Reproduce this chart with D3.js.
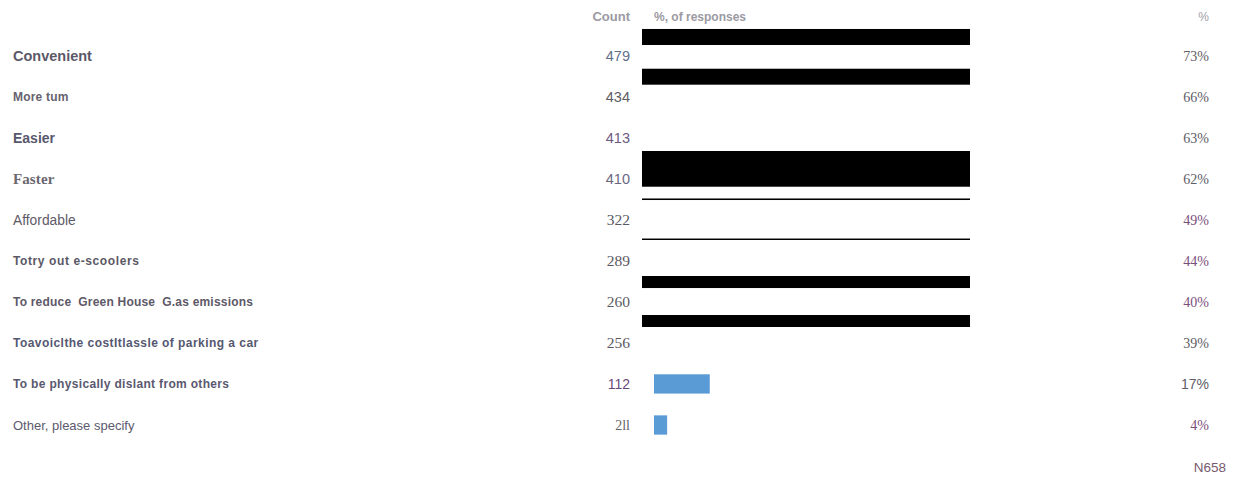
<!DOCTYPE html>
<html>
<head>
<meta charset="utf-8">
<script src="https://cdn.jsdelivr.net/npm/d3@7"></script>
<style>
  html, body { margin: 0; padding: 0; background: #fff; }
  svg { display: block; }
</style>
</head>
<body>
<svg id="chart" width="1234" height="478"></svg>
<script>
// ---------------- data ----------------
const categories = [
  "Convenient",
  "More tum",
  "Easier",
  "Faster",
  "Affordable",
  "Totry out e-scoolers",
  "To reduce  Green House  G.as emissions",
  "Toavoiclthe costItlassle of parking a car",
  "To be physically dislant from others",
  "Other, please specify"
];
const countLabels = ["479", "434", "413", "410", "322", "289", "260", "256", "112", "2ll"];
const pctValues   = [73, 66, 63, 62, 49, 44, 40, 39, 17, 4];
// bars that are visible in the picture (others are hidden)
const barValues   = [null, null, null, null, null, null, null, null, 17, 4];
// black masking bands, in row units (from, to), all spanning the full 0-100% range
const maskBands = [
  [-0.646, -0.256],
  [0.322, 0.711],
  [2.326, 3.196],
  [3.482, 3.52],
  [4.458, 4.494],
  [5.371, 5.664],
  [6.321, 6.613]
];
const headerLabels = { count: "Count", bar: "%, of responses", pct: "%" };
const footnote = "N658";

// ---------------- styles (per row) ----------------
const SANS = "'Liberation Sans', Arial, sans-serif";
const SERIF = "'Liberation Serif', 'Times New Roman', serif";
const labelStyle = [
  { f: SANS, s: 14.5, w: 700, c: "#5b5868", ls: 0 },
  { f: SANS, s: 12, w: 700, c: "#66626e", ls: 0.2 },
  { f: SANS, s: 14, w: 700, c: "#58586c", ls: 0 },
  { f: SERIF, s: 15, w: 700, c: "#6b6870", ls: 0.1 },
  { f: SANS, s: 13.8, w: 400, c: "#5f5a68", ls: 0 },
  { f: SANS, s: 12, w: 700, c: "#5b5866", ls: 0.6 },
  { f: SANS, s: 12, w: 700, c: "#5e5868", ls: 0.2 },
  { f: SANS, s: 12, w: 700, c: "#555870", ls: 0.45 },
  { f: SANS, s: 12, w: 700, c: "#5a5870", ls: 0.33 },
  { f: SANS, s: 13, w: 400, c: "#5c5a6e", ls: 0 }
];
const countStyle = [
  { f: SANS, s: 14.5, c: "#61708a" },
  { f: SANS, s: 14.5, c: "#5d5c64" },
  { f: SANS, s: 14.5, c: "#6a5a80" },
  { f: SANS, s: 14.5, c: "#6a6880" },
  { f: SERIF, s: 15.5, c: "#5a5860" },
  { f: SERIF, s: 15.5, c: "#5a5860" },
  { f: SERIF, s: 15.5, c: "#5e5c64" },
  { f: SERIF, s: 15.5, c: "#5a5860" },
  { f: SANS, s: 14, c: "#6a4a78" },
  { f: SERIF, s: 14, c: "#66646c" }
];
const pctStyle = [
  { f: SERIF, c: "#5e5c66" },
  { f: SERIF, c: "#5e5c66" },
  { f: SERIF, c: "#5e5c66" },
  { f: SERIF, c: "#5e5c66" },
  { f: SERIF, c: "#7a4e7a" },
  { f: SERIF, c: "#7a4e7a" },
  { f: SERIF, c: "#7a4e7a" },
  { f: SERIF, c: "#5e5c66" },
  { f: SANS, c: "#5e5c66" },
  { f: SERIF, c: "#7a4e7a" }
];

// ---------------- layout ----------------
const svg = d3.select("#chart");
const labelX = 13, countX = 630, pctX = 1209;

const y = d3.scaleLinear().domain([0, categories.length - 1]).range([55.5, 425]);
const x = d3.scaleLinear().domain([0, 100]).range([642, 970]);
const barInset = 12;
const barHalf = 0.235;

// headers
svg.append("text").attr("x", countX).attr("y", 20.5).attr("text-anchor", "end")
  .style("font-family", SANS).style("font-size", "13px").style("font-weight", 700)
  .attr("fill", "#9b9aa2").text(headerLabels.count);
svg.append("text").attr("x", 654).attr("y", 20.5)
  .style("font-family", SANS).style("font-size", "12px").style("font-weight", 700)
  .attr("fill", "#9b9aa2").text(headerLabels.bar);
svg.append("text").attr("x", pctX).attr("y", 20.5).attr("text-anchor", "end")
  .style("font-family", SANS).style("font-size", "12px")
  .attr("fill", "#a09ea6").text(headerLabels.pct);

// category labels
svg.append("g").selectAll("text").data(categories).join("text")
  .attr("x", labelX)
  .attr("y", (d, i) => y(i))
  .attr("dy", "0.36em")
  .style("font-family", (d, i) => labelStyle[i].f)
  .style("font-size", (d, i) => labelStyle[i].s + "px")
  .style("font-weight", (d, i) => labelStyle[i].w)
  .style("letter-spacing", (d, i) => labelStyle[i].ls + "px")
  .style("white-space", "pre")
  .attr("fill", (d, i) => labelStyle[i].c)
  .text(d => d);

// counts
svg.append("g").selectAll("text").data(countLabels).join("text")
  .attr("x", countX)
  .attr("y", (d, i) => y(i))
  .attr("dy", "0.36em")
  .attr("text-anchor", "end")
  .style("font-family", (d, i) => countStyle[i].f)
  .style("font-size", (d, i) => countStyle[i].s + "px")
  .attr("fill", (d, i) => countStyle[i].c)
  .text(d => d);

// percentages
svg.append("g").selectAll("text").data(pctValues).join("text")
  .attr("x", pctX)
  .attr("y", (d, i) => y(i))
  .attr("dy", "0.36em")
  .attr("text-anchor", "end")
  .style("font-family", (d, i) => pctStyle[i].f)
  .style("font-size", "14px")
  .attr("fill", (d, i) => pctStyle[i].c)
  .text(d => d + "%");

// blue bars
svg.append("g").selectAll("rect")
  .data(barValues.map((v, i) => ({ v, i })).filter(d => d.v != null))
  .join("rect")
  .attr("x", x(0) + barInset)
  .attr("y", d => y(d.i - barHalf))
  .attr("width", d => x(d.v) - x(0))
  .attr("height", y(barHalf) - y(-barHalf))
  .attr("fill", "#5b9bd5");

// black mask bands
svg.append("g").selectAll("rect").data(maskBands).join("rect")
  .attr("x", x(0))
  .attr("y", d => y(d[0]))
  .attr("width", x(100) - x(0))
  .attr("height", d => y(d[1]) - y(d[0]))
  .attr("fill", "#000");

// footnote
svg.append("text").attr("x", 1226).attr("y", 472).attr("text-anchor", "end")
  .style("font-family", SANS).style("font-size", "13.5px")
  .attr("fill", "#7a5a6e").text(footnote);
</script>
</body>
</html>
